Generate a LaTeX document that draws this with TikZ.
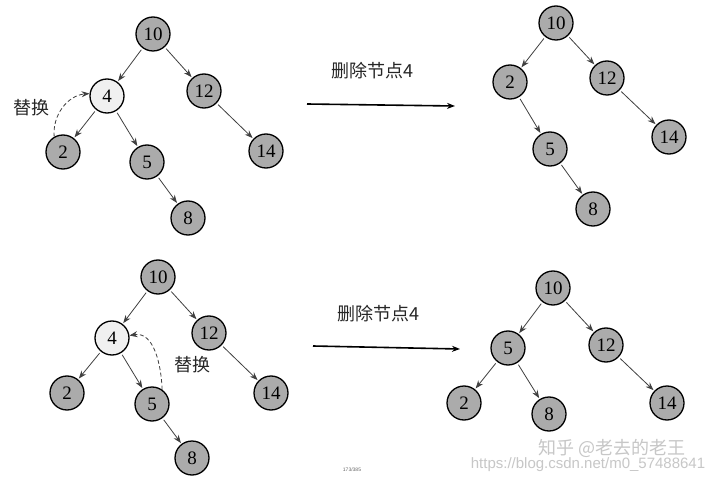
\documentclass[tikz,border=0pt]{standalone}
\usepackage{fontspec}
\setmainfont{Liberation Serif}
\newfontfamily\cjk{Noto Sans CJK SC}
\newfontfamily\webfont{Liberation Sans}
\usetikzlibrary{arrows.meta}

\tikzset{
  keynode/.style={circle, draw=black, line width=1.3pt, fill=black!33, minimum size=34pt, inner sep=0pt, font=\fontsize{19}{22}\selectfont},
  oldnode/.style={keynode, fill=black!6},
  link/.style={draw=black!75, line width=0.8pt, -{Stealth[length=8pt,width=6pt]}, shorten <=2pt, shorten >=1pt},
  swap/.style={dash pattern=on 4pt off 2.5pt, line width=0.8pt, black!75, -{Stealth[length=8pt,width=6pt]}},
  note/.style={font=\cjk\fontsize{18}{21}\selectfont, black!85},
  bigarrow/.style={line width=1.6pt, -{Stealth[length=8pt,width=6pt]}}
}

\begin{document}
\begin{tikzpicture}[x=1pt, y=-1pt]

\useasboundingbox[fill=white] (0,0) rectangle (720,481);

% Top left tree (before)
\node[keynode] (a10) at (153,34) {10};
\node[oldnode] (a4) at (107,96) {4};
\node[keynode] (a12) at (204,91) {12};
\node[keynode] (a2) at (63,152) {2};
\node[keynode] (a5) at (147,162) {5};
\node[keynode] (a14) at (266,151) {14};
\node[keynode] (a8) at (188,218) {8};

\draw[link] (a10) -- (a4);
\draw[link] (a10) -- (a12);
\draw[link] (a4) -- (a2);
\draw[link] (a4) -- (a5);
\draw[link] (a12) -- (a14);
\draw[link] (a5) -- (a8);

% Replace 4 by 2
\draw[swap] (a2.120) to[out=95, in=185] (a4.172);
\node[note] (aswap) at (31,108) {替换};

% Top arrow
\node[note] (atext) at (372,71) {删除节点4};
\coordinate (astart) at (307,104);
\coordinate (aend) at (455,106);
\draw[bigarrow] (astart) -- (aend);

% Top right tree (after)
\node[keynode] (b10) at (556,23) {10};
\node[keynode] (b2) at (510,82) {2};
\node[keynode] (b12) at (607,78) {12};
\node[keynode] (b14) at (669,137) {14};
\node[keynode] (b5) at (550,149) {5};
\node[keynode] (b8) at (593,209) {8};

\draw[link] (b10) -- (b2);
\draw[link] (b10) -- (b12);
\draw[link] (b12) -- (b14);
\draw[link] (b2) -- (b5);
\draw[link] (b5) -- (b8);

% Bottom left tree (before)
\node[keynode] (c10) at (158,277) {10};
\node[oldnode] (c4) at (112,338) {4};
\node[keynode] (c12) at (209,333) {12};
\node[keynode] (c2) at (67,393) {2};
\node[keynode] (c5) at (152,404) {5};
\node[keynode] (c14) at (271,393) {14};
\node[keynode] (c8) at (192,458) {8};

\draw[link] (c10) -- (c4);
\draw[link] (c10) -- (c12);
\draw[link] (c4) -- (c2);
\draw[link] (c4) -- (c5);
\draw[link] (c12) -- (c14);
\draw[link] (c5) -- (c8);

% Replace 4 by 5
\draw[swap] (c5.55) to[out=92, in=10] (c4.8);
\node[note] (cswap) at (192,365) {替换};

% Bottom arrow
\node[note] (ctext) at (378,314) {删除节点4};
\coordinate (cstart) at (313,346);
\coordinate (cend) at (460,349);
\draw[bigarrow] (cstart) -- (cend);

% Bottom right tree (after)
\node[keynode] (d10) at (553,288) {10};
\node[keynode] (d5) at (508,348) {5};
\node[keynode] (d12) at (606,345) {12};
\node[keynode] (d2) at (464,403) {2};
\node[keynode] (d8) at (549,414) {8};
\node[keynode] (d14) at (667,403) {14};

\draw[link] (d10) -- (d5);
\draw[link] (d10) -- (d12);
\draw[link] (d5) -- (d2);
\draw[link] (d5) -- (d8);
\draw[link] (d12) -- (d14);

% Watermarks and page number
\node[font=\cjk\fontsize{18}{21}\selectfont, black!22] (mark) at (612,448) {知乎 @老去的老王};
\node[font=\webfont\fontsize{15}{18}\selectfont, black!22] (url) at (588,465) {https://blog.csdn.net/m0\_57488641};
\node[font=\webfont\fontsize{5}{6}\selectfont, black!60] (page) at (352,470) {173/385};

\end{tikzpicture}
\end{document}
